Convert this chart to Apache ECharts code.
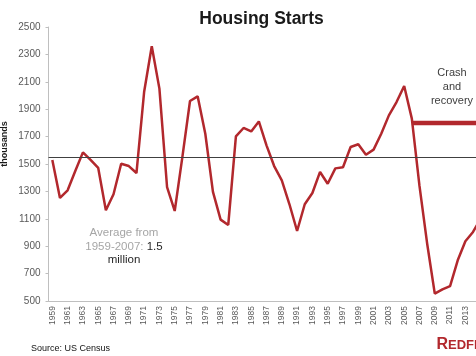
<!DOCTYPE html>
<html>
<head>
<meta charset="utf-8">
<script src="https://cdn.jsdelivr.net/npm/echarts@6/dist/echarts.min.js"></script>
<style>html,body{margin:0;padding:0;background:#fff}#c{width:476px;height:356px}</style>
</head>
<body>
<div id="c"></div>
<script>
const years = [];
for (let y = 1959; y <= 2015; y++) years.push(String(y));
const starts = [
  1530, 1252, 1308, 1449, 1585, 1530, 1471, 1162, 1279, 1502,
  1485, 1434, 2025, 2359, 2050, 1332, 1157, 1550, 1960, 1994,
  1721, 1296, 1094, 1055, 1702, 1763, 1738, 1811, 1636, 1485,
  1381, 1206, 1011, 1206, 1288, 1442, 1356, 1468, 1476, 1624,
  1644, 1568, 1605, 1721, 1855, 1952, 2069, 1831, 1340, 920,
  554, 585, 609, 797, 936, 1004, 1100
];
const averageLevel = 1550;
const crashStart = '2006';
const crashLevel = 1800;
const yTicks = { min: 500, max: 2500, interval: 200 };

const crashSeries = years.map(y => (Number(y) >= Number(crashStart) ? crashLevel : null));
const red = '#B2282D';

const chart = echarts.init(document.getElementById('c'), null, { renderer: 'canvas' });
chart.setOption({
  animation: false,
  backgroundColor: '#ffffff',
  grid: { left: 48.5, top: 27, width: 436, height: 274, containLabel: false, outerBoundsMode: 'none' },
  xAxis: {
    type: 'category',
    data: years,
    boundaryGap: true,
    axisLine: { lineStyle: { color: '#bfbfbf', width: 1 } },
    axisTick: { interval: 0, length: 4, lineStyle: { color: '#bfbfbf' } },
    axisLabel: { interval: 1, rotate: 90, margin: 5, color: '#595959', fontSize: 8.5, fontFamily: 'Liberation Sans' },
    splitLine: { show: false }
  },
  yAxis: {
    type: 'value',
    min: yTicks.min, max: yTicks.max, interval: yTicks.interval,
    axisLine: { show: true, lineStyle: { color: '#bfbfbf', width: 1 } },
    axisTick: { show: true, length: 3, lineStyle: { color: '#bfbfbf' } },
    axisLabel: { margin: 8, color: '#595959', fontSize: 10, fontFamily: 'Liberation Sans', formatter: v => String(v) },
    splitLine: { show: false }
  },
  series: [
    {
      type: 'line',
      data: starts,
      symbol: 'none',
      lineStyle: { color: red, width: 2.5 },
      z: 3,
      markLine: {
        silent: true,
        symbol: ['none', 'none'],
        label: { show: false },
        lineStyle: { color: '#404040', width: 1, type: 'solid' },
        data: [{ yAxis: averageLevel }]
      }
    },
    {
      type: 'line',
      data: crashSeries,
      symbol: 'none',
      connectNulls: false,
      lineStyle: { color: red, width: 4.5 },
      z: 4
    }
  ],
  graphic: [
    {
      type: 'text', x: 261.5, y: 19,
      style: { text: 'Housing Starts', fontSize: 17.5, fontWeight: 'bold', fontFamily: 'Liberation Sans', fill: '#1a1a1a', align: 'center', verticalAlign: 'middle' }
    },
    {
      type: 'text', x: 5, y: 144, rotation: Math.PI / 2,
      style: { text: 'thousands', fontSize: 9, fontWeight: 'bold', fontFamily: 'Liberation Sans', fill: '#1a1a1a', align: 'center', verticalAlign: 'middle' }
    },
    {
      type: 'text', x: 452, y: 87,
      style: { text: 'Crash\nand\nrecovery', fontSize: 11, lineHeight: 14, fontFamily: 'Liberation Sans', fill: '#404040', align: 'center', verticalAlign: 'middle' }
    },
    {
      type: 'text', x: 124, y: 246.5,
      style: {
        text: '{a|Average from}\n{a|1959-2007: }{b|1.5}\n{b|million}',
        align: 'center', verticalAlign: 'middle',
        rich: {
          a: { fontSize: 11.5, lineHeight: 13.5, fontFamily: 'Liberation Sans', fill: '#a6a6a6', color: '#a6a6a6' },
          b: { fontSize: 11.5, lineHeight: 13.5, fontFamily: 'Liberation Sans', fill: '#262626', color: '#262626' }
        }
      }
    },
    {
      type: 'text', x: 31, y: 349,
      style: { text: 'Source: US Census', fontSize: 9, fontFamily: 'Liberation Sans', fill: '#111111', align: 'left', verticalAlign: 'middle' }
    },
    {
      type: 'text', x: 436.5, y: 345,
      style: {
        text: '{r|R}{e|EDFIN}',
        align: 'left', verticalAlign: 'middle',
        rich: {
          r: { fontSize: 16, fontWeight: 'bold', fontFamily: 'Liberation Sans', fill: red, color: red },
          e: { fontSize: 13, fontWeight: 'bold', fontFamily: 'Liberation Sans', fill: red, color: red }
        }
      }
    }
  ]
});
</script>
</body>
</html>
